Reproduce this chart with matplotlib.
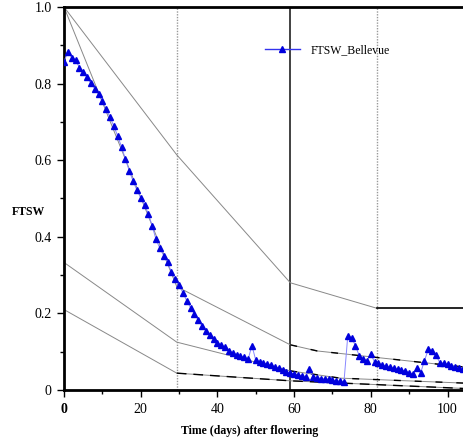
import numpy as np
import matplotlib
matplotlib.use("Agg")
import matplotlib.pyplot as plt
from matplotlib.lines import Line2D

plt.rcParams["font.family"] = ["Liberation Serif", "DejaVu Serif"]

# --- FTSW Bellevue, daily values after flowering ---
days = np.arange(0, 105)
ftsw = [0.857, 0.883, 0.868, 0.862, 0.842, 0.831, 0.816, 0.801, 0.787, 0.772,
        0.755, 0.733, 0.712, 0.689, 0.663, 0.635, 0.603, 0.573, 0.546, 0.522,
        0.502, 0.483, 0.460, 0.428, 0.393, 0.370, 0.351, 0.334, 0.308, 0.289,
        0.273, 0.254, 0.233, 0.215, 0.198, 0.183, 0.167, 0.154, 0.144, 0.132,
        0.124, 0.118, 0.111, 0.103, 0.097, 0.092, 0.088, 0.085, 0.080, 0.116,
        0.078, 0.074, 0.071, 0.068, 0.065, 0.061, 0.057, 0.052, 0.048, 0.044,
        0.042, 0.039, 0.037, 0.035, 0.054, 0.035, 0.032, 0.030, 0.029, 0.028,
        0.026, 0.024, 0.023, 0.021, 0.142, 0.137, 0.115, 0.089, 0.080, 0.077,
        0.094, 0.072, 0.070, 0.065, 0.063, 0.059, 0.057, 0.054, 0.052, 0.050,
        0.045, 0.042, 0.057, 0.045, 0.077, 0.106, 0.103, 0.091, 0.071, 0.070,
        0.067, 0.063, 0.061, 0.058, 0.056]

# --- reference lines (piecewise) ---
x_a = [0, 29.4, 59, 81.7]
y_a = [1.0, 0.614, 0.28, 0.213]
x_b = [0, 29.4, 59, 66, 104.3]
y_b = [1.0, 0.27, 0.118, 0.102, 0.06]
x_c = [0, 29.4, 59, 72, 104.3]
y_c = [0.333, 0.125, 0.05, 0.031, 0.018]
x_d = [0, 29.4, 59, 104.3]
y_d = [0.21, 0.044, 0.024, 0.004]

phase_dotted = [29.4, 81.7]
phase_solid = 59
x_max = 104.3

fig = plt.figure(figsize=(4.64, 4.40), dpi=100)
ax = fig.add_axes([64 / 464, 1 - 390 / 440, 1 - 64 / 464, (390 - 7) / 440])

for xv in phase_dotted:
    ax.axvline(xv, color="#999999", lw=1.0, ls=(0, (1, 1)), zorder=1)
ax.axvline(phase_solid, color="#333333", lw=1.3, zorder=1)

for xs, ys in [(x_a, y_a), (x_b, y_b), (x_c, y_c), (x_d, y_d)]:
    ax.plot(xs, ys, color="#888888", lw=0.7, zorder=2)

# dashed black tails
ax.plot(x_b[2:], y_b[2:], color="black", lw=1.0, dashes=(5, 10), zorder=2)
ax.plot(x_c[2:], y_c[2:], color="black", lw=1.0, dashes=(5, 10), zorder=2)
ax.plot(x_d[1:], y_d[1:], color="black", lw=1.0, dashes=(7, 5), zorder=2)
ax.plot([x_a[-1], x_max], [y_a[-1], y_a[-1]], color="black", lw=1.2, zorder=2)

ax.plot(days, ftsw, color="#8888ff", lw=0.7, zorder=3)
ax.plot(days, ftsw, ls="none", marker="^", ms=5, color="#0000dd",
        markeredgecolor="#0000dd", zorder=4)

handle = Line2D([], [], color="#3333ee", lw=1.0, marker="^", ms=5,
                markerfacecolor="#0000dd", markeredgecolor="#0000dd")
ax.legend([handle], ["FTSW_Bellevue"], loc="upper left",
          bbox_to_anchor=(0.475, 0.93), frameon=False, fontsize=8.5,
          handlelength=3.0, handletextpad=0.9)

ax.set_xlim(0, x_max)
ax.set_ylim(0, 1.0)
ax.set_xticks([0, 20, 40, 60, 80, 100])
ax.set_xticks(np.arange(10, 105, 20), minor=True)
ax.set_yticks([0, 0.2, 0.4, 0.6, 0.8, 1.0])
ax.set_yticklabels(["0", "0.2", "0.4", "0.6", "0.8", "1.0"])
ax.set_yticks(np.arange(0.1, 1.0, 0.2), minor=True)
ax.tick_params(which="major", direction="out", length=5, width=1.0,
               labelsize=10)
ax.tick_params(axis="x", which="major", pad=4)
ax.tick_params(axis="y", which="major", pad=4)
ax.tick_params(which="minor", direction="out", length=3, width=1.0)
ax.get_xticklabels()[0].set_fontweight("bold")

for side in ["left", "bottom", "top"]:
    ax.spines[side].set_linewidth(2.0)
ax.spines["right"].set_visible(False)

fig.text(12 / 464, 1 - 212 / 440, "FTSW", fontsize=8.5, fontweight="bold",
         va="center", ha="left")
fig.text(250 / 464, 1 - 431 / 440, "Time (days) after flowering", fontsize=8.5,
         fontweight="bold", va="center", ha="center")

fig.savefig("out.png", dpi=100)
